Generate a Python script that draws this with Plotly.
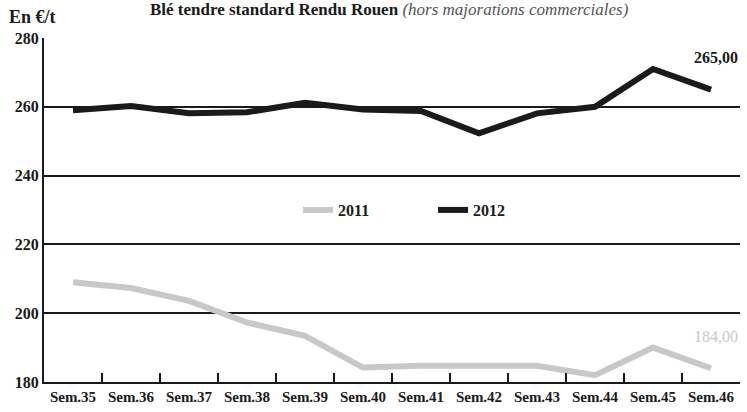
import plotly.graph_objects as go

categories = ["Sem.35", "Sem.36", "Sem.37", "Sem.38", "Sem.39", "Sem.40",
              "Sem.41", "Sem.42", "Sem.43", "Sem.44", "Sem.45", "Sem.46"]
values_2011 = [209, 207.3, 203.6, 197.3, 193.4, 184.2, 184.7, 184.7, 184.7, 182, 190, 184]
values_2012 = [259, 260.2, 258.1, 258.4, 261.2, 259.2, 258.8, 252.3, 258.1, 260, 271, 265]
y_ticks = [180, 200, 220, 240, 260, 280]

FONT = "Liberation Serif"
GRAY = "#c8c8c8"
INK = "#1a1a1a"

fig = go.Figure()
fig.add_trace(go.Scatter(x=categories, y=values_2011, name="2011", mode="lines",
                         line=dict(color=GRAY, width=6)))
fig.add_trace(go.Scatter(x=categories, y=values_2012, name="2012", mode="lines",
                         line=dict(color=INK, width=6)))

fig.add_annotation(xref="paper", x=1.0, y=values_2012[-1], text="<b>265,00</b>",
                   showarrow=False, yshift=32, xanchor="right",
                   font=dict(family=FONT, size=16, color=INK))
fig.add_annotation(xref="paper", x=1.0, y=values_2011[-1], text="184,00",
                   showarrow=False, yshift=32, xanchor="right",
                   font=dict(family=FONT, size=16, color=GRAY))

fig.add_annotation(xref="paper", yref="paper", x=-0.053, y=1.0, yshift=9,
                   xanchor="left", yanchor="bottom", showarrow=False,
                   text="<b>En €/t</b>", font=dict(family=FONT, size=18, color=INK))
fig.add_annotation(xref="paper", yref="paper", x=0.497, y=1.0, yshift=17,
                   xanchor="center", yanchor="bottom", showarrow=False,
                   text="<b>Blé tendre standard Rendu Rouen</b> <i><span style='color:#555'>(hors majorations commerciales)</span></i>",
                   font=dict(family=FONT, size=17, color=INK))

fig.update_layout(
    width=747, height=412,
    margin=dict(l=44, r=7, t=38, b=30),
    paper_bgcolor="white", plot_bgcolor="white",
    font=dict(family=FONT, color=INK),
    showlegend=True,
    legend=dict(orientation="h", x=0.365, xanchor="left", y=0.5, yanchor="middle",
                entrywidth=90, entrywidthmode="pixels",
                font=dict(family=FONT, size=16, color=INK, weight="bold"),
                bgcolor="rgba(0,0,0,0)"),
    xaxis=dict(
        type="category", range=[-0.5, 11.5],
        showline=True, linecolor=INK, linewidth=2,
        ticks="inside", ticklen=9, tickwidth=2, tickcolor=INK,
        tickson="boundaries", showgrid=False,
        tickfont=dict(family=FONT, size=15, color=INK, weight="bold"),
    ),
    yaxis=dict(
        range=[180, 280], tickvals=y_ticks,
        showgrid=True, gridcolor=INK, gridwidth=1.5,
        showline=True, linecolor=INK, linewidth=2,
        ticks="", zeroline=False,
        tickfont=dict(family=FONT, size=16, color=INK, weight="bold"),
    ),
)

fig.write_html("out.html", config={"displayModeBar": False},
               post_script="document.body.style.margin='0';")
